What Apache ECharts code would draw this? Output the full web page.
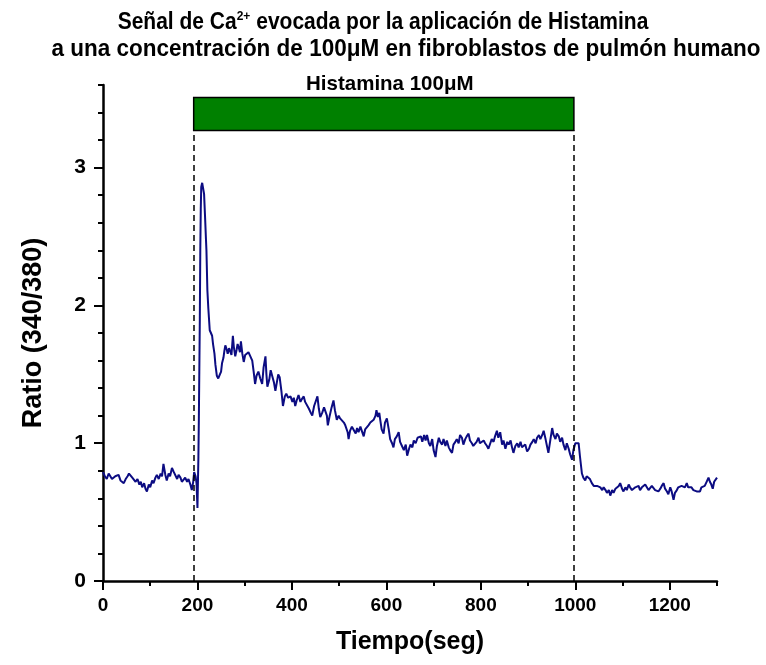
<!DOCTYPE html>
<html>
<head>
<meta charset="utf-8">
<script src="https://cdn.jsdelivr.net/npm/echarts@6/dist/echarts.min.js"></script>
<style>html,body{margin:0;padding:0;background:#fff;}#c{width:766px;height:665px;}</style>
</head>
<body>
<div id="c"></div>
<script>
// ---- data ----
var times = [0,4,8,12,15,19,22,26,30,33,37,41,44,48,52,55,58,62,66,69,73,77,80,83,87,90,93,97,100,104,107,111,114,118,122,125,128,132,135,139,142,146,150,153,157,160,164,167,171,174,178,181,185,188,191,193,196,198,200,202,203,205,206,207,208,210,212,214,216,218,219,221,223,226,228,231,233,236,238,241,244,247,250,252,255,257,259,262,264,267,270,272,275,277,280,283,285,287,290,292,295,298,301,305,308,312,316,319,322,325,329,333,337,340,344,346,348,352,355,358,362,365,368,371,374,378,381,385,388,392,397,401,404,407,410,414,418,421,425,428,432,436,440,443,447,451,454,457,460,464,468,471,474,476,480,484,488,491,495,499,502,506,510,513,515,518,520,523,527,531,535,538,541,545,548,552,555,559,562,566,570,573,577,579,582,585,587,590,594,597,601,605,608,612,615,618,622,626,629,633,637,641,644,648,651,655,658,662,666,669,673,676,680,683,686,690,693,697,700,704,707,711,714,718,721,725,728,732,735,739,742,746,749,753,756,760,763,767,770,774,777,781,784,788,791,795,798,802,806,809,813,816,820,823,827,830,834,837,841,845,848,852,856,859,863,866,869,873,877,880,884,887,891,894,898,902,905,909,912,916,919,923,926,930,933,937,940,943,947,951,954,958,961,965,968,972,975,979,982,986,989,993,996,1000,1004,1007,1010,1014,1017,1021,1024,1028,1031,1035,1039,1042,1046,1050,1053,1057,1060,1064,1067,1071,1074,1078,1081,1085,1088,1092,1095,1099,1102,1106,1109,1113,1116,1120,1123,1127,1130,1134,1137,1141,1144,1148,1152,1155,1159,1162,1166,1169,1173,1176,1180,1183,1187,1190,1194,1197,1201,1204,1208,1211,1215,1218,1222,1225,1229,1232,1236,1239,1243,1246,1250,1253,1257,1260,1264,1267,1271,1274,1278,1282,1285,1288,1291,1294,1297,1300];
var ratio = [0.79,0.76,0.74,0.78,0.79,0.74,0.73,0.76,0.75,0.77,0.73,0.74,0.71,0.74,0.76,0.78,0.79,0.75,0.74,0.72,0.74,0.70,0.72,0.68,0.71,0.67,0.65,0.70,0.68,0.73,0.71,0.75,0.77,0.74,0.78,0.76,0.85,0.77,0.73,0.78,0.76,0.82,0.79,0.80,0.74,0.77,0.75,0.72,0.71,0.75,0.72,0.74,0.70,0.66,0.72,0.79,0.76,0.71,0.53,0.90,1.19,1.90,2.40,2.70,2.86,2.89,2.88,2.81,2.65,2.48,2.40,2.11,1.98,1.82,1.81,1.78,1.72,1.65,1.57,1.49,1.47,1.48,1.52,1.58,1.62,1.67,1.71,1.68,1.65,1.69,1.70,1.64,1.78,1.70,1.63,1.68,1.72,1.70,1.66,1.74,1.65,1.59,1.64,1.63,1.66,1.63,1.60,1.52,1.43,1.49,1.52,1.47,1.43,1.55,1.63,1.50,1.41,1.46,1.53,1.52,1.44,1.38,1.44,1.50,1.48,1.37,1.27,1.34,1.36,1.33,1.34,1.30,1.33,1.27,1.31,1.35,1.30,1.32,1.34,1.30,1.29,1.25,1.22,1.20,1.27,1.31,1.34,1.25,1.19,1.22,1.26,1.25,1.20,1.13,1.20,1.26,1.31,1.24,1.17,1.20,1.18,1.19,1.15,1.13,1.12,1.08,1.03,1.09,1.12,1.12,1.07,1.11,1.08,1.12,1.09,1.05,1.10,1.11,1.13,1.15,1.14,1.17,1.20,1.24,1.19,1.22,1.17,1.10,1.07,1.15,1.18,1.10,1.03,1.00,0.97,1.03,1.05,1.08,1.01,0.98,0.95,0.99,0.91,0.96,0.99,0.97,1.02,1.00,1.04,1.03,1.05,1.01,1.06,1.02,1.06,1.00,0.98,1.03,0.95,0.90,0.98,1.04,1.01,0.99,1.03,0.98,1.02,0.97,0.95,0.93,0.99,1.01,1.03,1.00,1.06,1.04,0.99,1.03,1.05,1.07,1.02,1.00,0.98,0.97,1.01,1.04,1.00,0.99,1.02,1.00,0.98,0.96,1.00,1.03,1.01,1.05,1.09,1.04,1.08,0.99,1.02,0.96,1.01,0.99,1.02,0.97,0.93,0.98,1.00,0.97,1.01,0.97,0.96,0.99,0.94,0.96,0.99,1.01,1.03,1.00,1.04,1.06,1.03,1.06,1.09,1.03,0.98,0.93,1.02,1.11,1.06,1.03,1.07,1.05,1.01,1.04,0.99,0.95,1.00,0.96,0.92,0.88,0.95,1.00,1.01,1.00,0.90,0.78,0.75,0.73,0.76,0.77,0.74,0.71,0.69,0.70,0.69,0.69,0.68,0.66,0.68,0.66,0.64,0.66,0.62,0.66,0.64,0.67,0.66,0.69,0.71,0.67,0.65,0.68,0.66,0.70,0.68,0.66,0.65,0.68,0.67,0.69,0.66,0.68,0.67,0.70,0.69,0.66,0.67,0.69,0.68,0.66,0.67,0.65,0.67,0.69,0.71,0.67,0.65,0.63,0.68,0.65,0.59,0.64,0.66,0.68,0.67,0.69,0.70,0.68,0.71,0.68,0.67,0.68,0.66,0.67,0.65,0.66,0.65,0.68,0.67,0.69,0.72,0.75,0.72,0.70,0.67,0.72,0.73,0.75];
var xMajorTicks = [0,200,400,600,800,1000,1200];
var yMajorTicks = [0,1,2,3];
var stimStart = 192, stimEnd = 997;   // histamine application (s)
var barLow = 3.27, barHigh = 3.51;    // green bar extent (ratio units)
var titleLine1 = 'Señal de Ca{sup|2+} evocada por la aplicación de Histamina';
var titleLine2 = 'a una concentración de 100μM en fibroblastos de pulmón humano';
var barLabel = 'Histamina 100μM';
var xName = 'Tiempo(seg)';
var yName = 'Ratio (340/380)';

var FONT = '"Liberation Sans", Arial, sans-serif';
var seriesData = times.map(function (t, i) { return [t, ratio[i]]; });

var chart = echarts.init(document.getElementById('c'), null, {renderer: 'canvas'});
chart.setOption({
  animation: false,
  backgroundColor: '#fff',
  grid: {left: 103, right: 49, top: 85, bottom: 84},
  graphic: [
    {type: 'text', x: 383, y: 23, scaleY: 1.1, style: {text: titleLine1, fontFamily: FONT, fontWeight: 'bold', fontSize: 21, fill: '#000', align: 'center', verticalAlign: 'middle',
      rich: {sup: {fontSize: 12, fontWeight: 'bold', fontFamily: FONT, verticalAlign: 'top', padding: [0, 0, 12, 0]}}}},
    {type: 'text', x: 406, y: 49, scaleY: 1.1, style: {text: titleLine2, fontFamily: FONT, fontWeight: 'bold', fontSize: 22.5, fill: '#000', align: 'center', verticalAlign: 'middle'}}
  ],
  xAxis: [
    {type: 'value', min: 0, max: 1300, interval: 100, position: 'bottom',
      axisLine: {show: true, onZero: false, lineStyle: {color: '#000', width: 2.5}},
      axisTick: {show: true, length: 5, lineStyle: {color: '#000', width: 2}},
      axisLabel: {show: false}, splitLine: {show: false}},
    {type: 'value', min: 0, max: 1300, interval: 100, position: 'bottom',
      axisLine: {show: false, onZero: false},
      axisTick: {show: true, customValues: xMajorTicks, length: 9, lineStyle: {color: '#000', width: 2}},
      axisLabel: {show: true, customValues: xMajorTicks, margin: 15, color: '#000', fontFamily: FONT, fontWeight: 'bold', fontSize: 19,
        formatter: function (v) { return String(v); }},
      splitLine: {show: false},
      name: xName, nameLocation: 'middle', nameGap: 49,
      nameTextStyle: {color: '#000', fontFamily: FONT, fontWeight: 'bold', fontSize: 25}}
  ],
  yAxis: [
    {type: 'value', min: 0, max: 3.6, interval: 0.2, position: 'left',
      axisLine: {show: true, onZero: false, lineStyle: {color: '#000', width: 2.5}},
      axisTick: {show: true, length: 5, lineStyle: {color: '#000', width: 2}},
      axisLabel: {show: false}, splitLine: {show: false}},
    {type: 'value', min: 0, max: 3.6, interval: 0.2, position: 'left',
      axisLine: {show: false, onZero: false},
      axisTick: {show: true, customValues: yMajorTicks, length: 9, lineStyle: {color: '#000', width: 2}},
      axisLabel: {show: true, customValues: yMajorTicks, margin: 17, color: '#000', fontFamily: FONT, fontWeight: 'bold', fontSize: 21,
        formatter: function (v) { return String(v); }},
      splitLine: {show: false},
      name: yName, nameLocation: 'middle', nameGap: 56, nameRotate: 90,
      nameTextStyle: {color: '#000', fontFamily: FONT, fontWeight: 'bold', fontSize: 27}}
  ],
  series: [{
    type: 'line', xAxisIndex: 0, yAxisIndex: 0, data: seriesData,
    showSymbol: false, symbol: 'none',
    lineStyle: {color: '#0c0c82', width: 2}, itemStyle: {color: '#0c0c82'},
    markLine: {
      silent: true, symbol: 'none', label: {show: false},
      lineStyle: {color: '#000', type: [6, 4], width: 1.5},
      data: [
        [{coord: [stimStart, 0]}, {coord: [stimStart, barLow]}],
        [{coord: [stimEnd, 0]}, {coord: [stimEnd, barLow]}]
      ]
    },
    markArea: {
      silent: true,
      itemStyle: {color: '#008000', borderColor: '#000', borderWidth: 1.5, opacity: 1},
      label: {show: true, position: 'top', distance: 2, offset: [6, 0], color: '#000', fontFamily: FONT, fontWeight: 'bold', fontSize: 20.5, formatter: barLabel},
      data: [[{coord: [stimStart, barLow]}, {coord: [stimEnd, barHigh]}]]
    }
  }]
});
</script>
</body>
</html>
